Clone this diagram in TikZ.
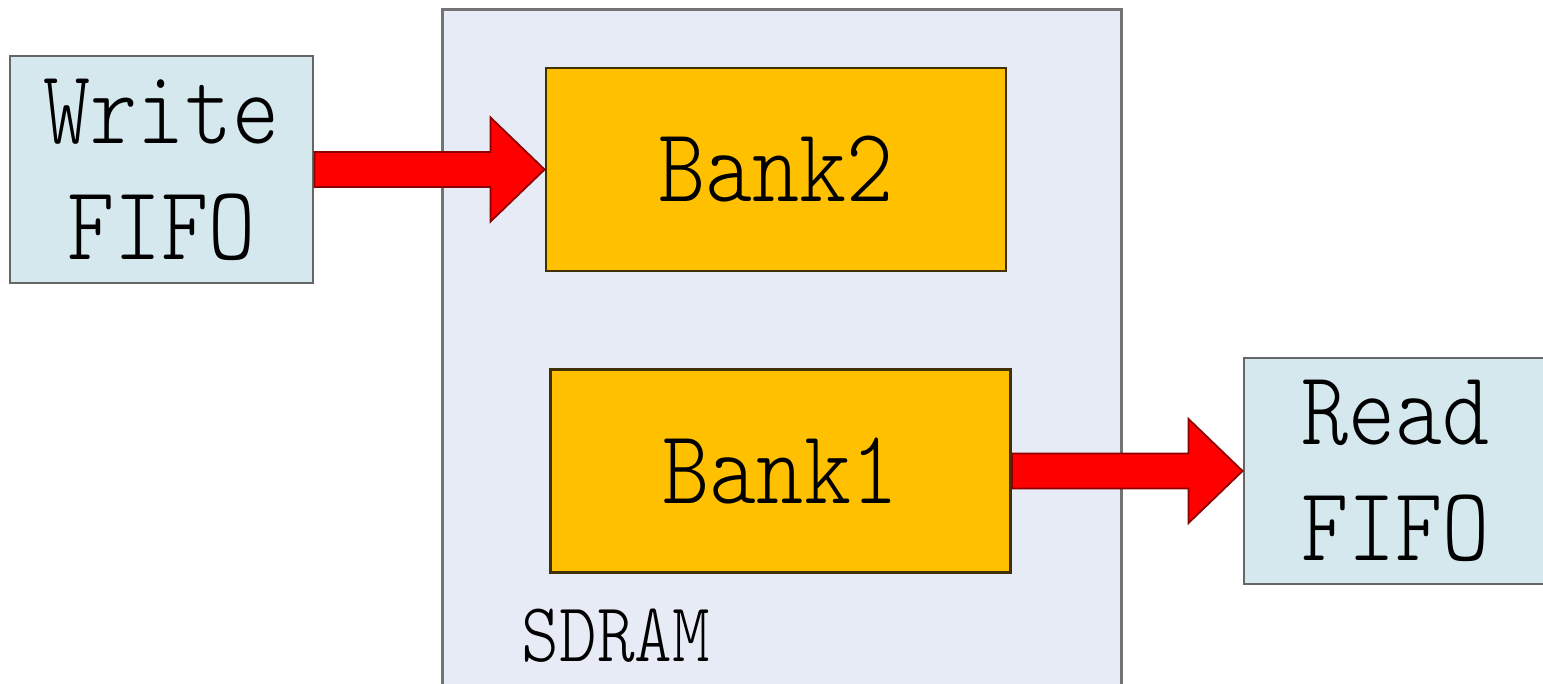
\documentclass[tikz,border=0pt]{standalone}
\usepackage{fontspec}
\usepackage{xcolor}
\usepackage{tikz}
\usetikzlibrary{calc}
\newfontfamily\boxfont[FakeStretch=0.85]{lmmonolt10-regular.otf}

\definecolor{fifoblue}{HTML}{D5E8EE}
\definecolor{sdramfill}{HTML}{E6EBF5}
\definecolor{bankorange}{HTML}{FFC000}
\definecolor{arrowred}{HTML}{FF0000}

\begin{document}
\begin{tikzpicture}[
        fifo/.style={rectangle, draw=black!60, fill=fifoblue, line width=0.8pt, align=center, font={\boxfont\fontsize{30}{33}\selectfont}},
        bank/.style={rectangle, draw=black!75!bankorange, fill=bankorange, line width=0.8pt, minimum width=4.6cm, minimum height=2.03cm, align=center, font={\boxfont\fontsize{30}{33}\selectfont}},
        mem/.style={rectangle, draw=black!55, fill=sdramfill, line width=0.8pt, minimum width=6.79cm, minimum height=6.95cm, anchor=north west},
        flowarrow/.style={draw=red!55!black, fill=arrowred, line width=0.5pt, line join=miter}
    ]
        \useasboundingbox (0,0) rectangle (15.43,6.83);

        % SDRAM container
        \node (sdram) [mem] at (4.41,6.75) {};
        \node (sdramlabel) [font={\boxfont\fontsize{24}{26}\selectfont}] at (6.16,0.47) {SDRAM};

        % Banks
        \node (bank2) [bank] at (7.76,5.135) {Bank2};
        \node (bank1) [bank] at (7.805,2.12) {Bank1};

        % FIFOs
        \node (writefifo) [fifo, minimum width=3.03cm, minimum height=2.27cm] at (1.615,5.135) {Write\\FIFO};
        \node (readfifo) [fifo, minimum width=3.03cm, minimum height=2.26cm] at (13.955,2.12) {Read\\FIFO};

        % Data flow
        \filldraw [flowarrow] ($(writefifo.east)+(0,0.175)$) -- ($(bank2.west)+(-0.54,0.175)$) -- ++(0,0.345)
            -- (bank2.west) -- ++(-0.54,-0.52) -- ++(0,0.345) -- ($(writefifo.east)+(0,-0.175)$) -- cycle;
        \filldraw [flowarrow] ($(bank1.east)+(0,0.175)$) -- ($(readfifo.west)+(-0.54,0.175)$) -- ++(0,0.345)
            -- (readfifo.west) -- ++(-0.54,-0.52) -- ++(0,0.345) -- ($(bank1.east)+(0,-0.175)$) -- cycle;

    \end{tikzpicture}
\end{document}
